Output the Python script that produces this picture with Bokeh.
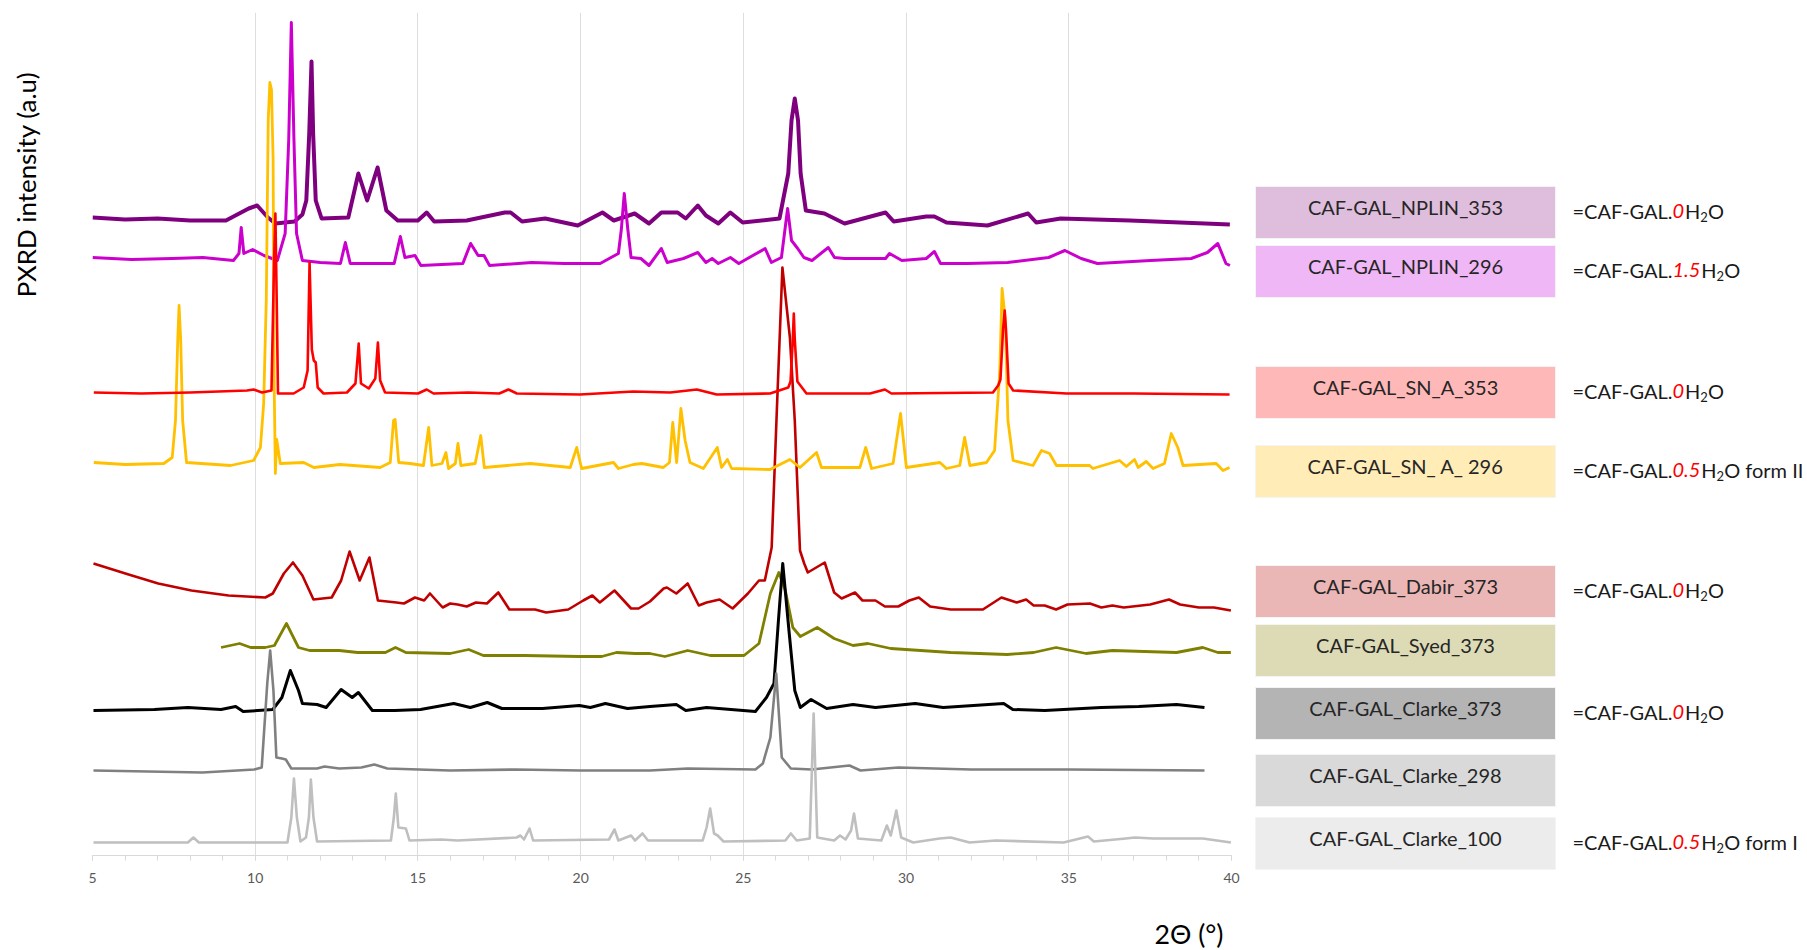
import os, glob, math
from bokeh.plotting import figure
from bokeh.models import Range1d, SingleIntervalTicker, ColumnDataSource
from bokeh.layouts import row, column
from bokeh.embed import file_html
from bokeh.resources import INLINE
from bokeh.core.properties import value

# ---------------- data: (2theta, intensity a.u. incl. stacking offset) ----------------
nplin_353 = [(5.0, 642), (6.0, 640), (7.0, 641), (8.0, 639), (9.1, 639), (9.8, 651), (10.06, 654),
             (10.39, 642), (10.62, 636), (11.21, 638), (11.45, 645), (11.57, 659), (11.66, 726), (11.73, 798),
             (11.78, 726), (11.86, 659), (12.04, 641), (12.86, 642), (13.17, 686), (13.44, 659), (13.76, 692),
             (14.03, 649), (14.38, 639), (15.0, 639), (15.27, 647), (15.5, 638), (16.5, 639), (17.67, 647),
             (17.85, 647), (18.2, 638), (18.91, 641), (19.91, 634), (20.67, 647), (21.02, 639), (21.66, 646),
             (22.10, 636), (22.48, 647), (22.98, 647), (23.23, 641), (23.60, 654), (23.85, 644), (24.23, 636),
             (24.60, 647), (24.98, 637), (26.11, 641), (26.38, 686), (26.48, 739), (26.58, 761), (26.68, 739),
             (26.76, 686), (26.92, 649), (27.49, 646), (28.11, 636), (29.37, 647), (29.62, 638), (30.62, 643),
             (30.87, 643), (31.24, 637), (32.50, 634), (33.75, 646), (34.0, 637), (34.75, 641), (36.88, 639),
             (39.95, 635)]

nplin_296 = [(5.0, 602), (6.2, 600), (7.45, 601), (8.39, 602), (9.33, 599), (9.50, 606), (9.57, 632),
             (9.65, 606), (9.92, 610), (10.27, 604), (10.68, 599), (10.92, 626), (11.03, 720), (11.11, 837),
             (11.19, 720), (11.27, 626), (11.45, 599), (12.0, 597), (12.62, 596), (12.77, 617), (12.92, 596),
             (14.27, 596), (14.46, 623), (14.60, 602), (14.91, 604), (15.09, 594), (16.38, 596), (16.62, 616),
             (16.85, 604), (17.03, 604), (17.20, 594), (18.5, 597), (19.5, 596), (20.6, 596), (21.16, 606),
             (21.25, 630), (21.34, 666), (21.45, 630), (21.55, 602), (21.85, 601), (22.1, 594), (22.48, 611),
             (22.66, 597), (23.16, 601), (23.60, 607), (23.85, 597), (24.04, 601), (24.23, 596), (24.60, 602),
             (24.86, 596), (25.67, 611), (25.86, 597), (26.17, 602), (26.36, 651), (26.48, 619), (26.67, 611),
             (26.86, 602), (27.11, 599), (27.61, 612), (27.80, 602), (28.11, 601), (29.37, 601), (29.49, 606),
             (29.87, 599), (30.62, 601), (30.87, 608), (31.06, 596), (31.87, 596), (33.12, 597), (34.38, 602),
             (34.88, 609), (35.38, 601), (35.88, 596), (37.51, 599), (38.76, 601), (39.26, 607), (39.58, 616),
             (39.83, 596), (39.95, 594)]

sn_a_353 = [(5.04, 467), (6.5, 466), (8.0, 467), (9.75, 469), (9.95, 470), (10.21, 467), (10.50, 469),
            (10.58, 600), (10.62, 646), (10.66, 560), (10.70, 466), (11.18, 466), (11.49, 472), (11.61, 489),
            (11.67, 597), (11.74, 510), (11.80, 499), (11.86, 497), (11.92, 472), (12.1, 466), (12.82, 467),
            (13.08, 476), (13.18, 516), (13.25, 476), (13.49, 471), (13.69, 481), (13.77, 517), (13.84, 479),
            (13.99, 467), (15.0, 466), (15.27, 470), (15.48, 466), (16.55, 467), (17.5, 466), (17.78, 470),
            (18.04, 466), (19.98, 465), (21.62, 468), (22.75, 467), (23.57, 470), (24.18, 465), (25.82, 466),
            (26.38, 472), (26.45, 478), (26.52, 520), (26.55, 546), (26.58, 520), (26.66, 478), (26.94, 466),
            (28.89, 466), (29.35, 470), (29.55, 466), (32.67, 467), (32.83, 474), (32.90, 480), (32.98, 530),
            (33.03, 549), (33.07, 530), (33.15, 476), (33.29, 469), (34.93, 466), (37.0, 466), (39.94, 465)]

sn_a_296 = [(5.04, 397), (6.0, 395), (7.19, 396), (7.45, 402), (7.55, 439), (7.62, 520), (7.66, 554),
            (7.71, 520), (7.77, 439), (7.89, 397), (9.24, 394), (9.95, 399), (10.16, 412), (10.26, 456),
            (10.34, 560), (10.40, 740), (10.45, 777), (10.50, 770), (10.55, 700), (10.58, 480), (10.62, 386),
            (10.66, 420), (10.77, 396), (11.49, 397), (11.80, 392), (12.6, 395), (13.84, 392), (14.15, 397),
            (14.25, 439), (14.30, 440), (14.41, 397), (14.76, 396), (15.17, 394), (15.33, 432), (15.43, 394),
            (15.74, 396), (15.86, 407), (15.94, 391), (16.15, 396), (16.23, 416), (16.32, 394), (16.76, 396),
            (16.93, 424), (17.04, 392), (18.45, 396), (19.68, 392), (19.88, 412), (20.03, 391), (21.01, 397),
            (21.16, 391), (21.62, 395), (21.88, 396), (22.54, 392), (22.73, 397), (22.83, 437), (22.95, 397),
            (23.08, 451), (23.21, 419), (23.36, 397), (23.77, 391), (24.20, 412), (24.33, 392), (24.51, 400),
            (24.64, 391), (25.82, 390), (26.43, 400), (26.74, 392), (27.25, 407), (27.40, 392), (28.58, 392),
            (28.76, 412), (28.94, 391), (29.6, 396), (29.83, 446), (30.01, 392), (31.04, 397), (31.24, 391),
            (31.65, 394), (31.80, 422), (31.96, 394), (32.47, 397), (32.72, 409), (32.88, 489), (32.95, 571),
            (33.05, 539), (33.13, 439), (33.29, 399), (33.9, 394), (34.16, 409), (34.41, 406), (34.62, 394),
            (35.64, 394), (35.74, 391), (36.56, 399), (36.77, 393), (37.02, 400), (37.13, 392), (37.38, 398),
            (37.59, 391), (37.94, 396), (38.15, 426), (38.35, 412), (38.51, 394), (39.53, 396), (39.74, 389),
            (39.94, 392)]

dabir_373 = [(5.03, 296), (6.11, 285), (7.02, 276), (8.04, 269), (9.18, 264), (10.31, 262), (10.54, 266),
             (10.88, 286), (11.16, 297), (11.45, 284), (11.79, 260), (12.35, 262), (12.64, 279), (12.90, 308),
             (13.21, 279), (13.51, 302), (13.77, 259), (14.34, 257), (14.57, 256), (14.91, 262), (15.19, 259),
             (15.37, 266), (15.76, 252), (15.99, 256), (16.22, 255), (16.50, 253), (16.78, 257), (17.12, 256),
             (17.47, 267), (17.81, 250), (18.6, 250), (18.94, 247), (19.62, 250), (20.08, 259), (20.36, 264),
             (20.59, 257), (21.04, 269), (21.55, 251), (21.78, 251), (22.13, 258), (22.55, 271), (22.65, 272),
             (22.94, 266), (23.29, 276), (23.63, 254), (23.87, 257), (24.27, 260), (24.67, 251), (25.14, 266),
             (25.48, 279), (25.66, 279), (25.87, 312), (26.03, 450), (26.20, 592), (26.43, 522), (26.58, 439),
             (26.74, 309), (26.87, 296), (26.98, 287), (27.50, 297), (27.79, 267), (28.02, 261), (28.43, 267),
             (28.66, 259), (29.06, 259), (29.35, 253), (29.76, 253), (30.10, 259), (30.39, 262), (30.74, 253),
             (31.37, 250), (32.36, 250), (32.93, 262), (33.40, 257), (33.69, 260), (33.92, 254), (34.26, 254),
             (34.61, 250), (34.96, 255), (35.65, 256), (36.0, 252), (36.34, 254), (36.69, 252), (37.5, 255),
             (38.08, 260), (38.42, 255), (39.0, 252), (39.46, 252), (39.98, 249)]

syed_373 = [(8.95, 212), (9.52, 216), (9.86, 212), (10.31, 212), (10.59, 214), (10.96, 236), (11.33, 212),
            (11.67, 209), (12.58, 209), (13.15, 207), (14.0, 207), (14.31, 212), (14.63, 207), (15.99, 206),
            (16.56, 210), (17.01, 204), (18.26, 204), (19.96, 203), (20.65, 203), (21.10, 207), (21.67, 206),
            (22.13, 206), (22.59, 203), (23.29, 209), (23.98, 204), (25.02, 204), (25.48, 216), (25.83, 266),
            (26.09, 287), (26.29, 269), (26.52, 232), (26.75, 223), (27.27, 232), (27.79, 221), (28.37, 214),
            (28.83, 216), (29.53, 211), (31.37, 207), (33.11, 205), (33.92, 207), (34.61, 212), (35.53, 206),
            (36.34, 209), (38.31, 207), (39.12, 212), (39.58, 207), (39.98, 207)]

clarke_373 = [(5.03, 149), (6.9, 150), (7.93, 152), (8.95, 150), (9.40, 153), (9.63, 148), (10.54, 150),
              (10.82, 162), (11.08, 189), (11.33, 169), (11.45, 156), (11.9, 155), (12.18, 152), (12.64, 170),
              (12.98, 162), (13.17, 167), (13.6, 149), (14.29, 149), (15.08, 150), (16.1, 156), (16.61, 152),
              (17.13, 157), (17.58, 151), (18.83, 151), (19.96, 154), (20.3, 152), (20.76, 156), (21.44, 151),
              (22.13, 153), (22.94, 155), (23.23, 149), (23.87, 152), (25.37, 148), (25.71, 162), (25.94, 176),
              (26.08, 240), (26.21, 296), (26.41, 226), (26.58, 169), (26.75, 152), (27.08, 160), (27.56, 151),
              (28.37, 155), (29.06, 152), (30.28, 156), (31.14, 152), (33.0, 156), (33.28, 150), (34.26, 149),
              (36.0, 152), (37.15, 153), (38.31, 155), (39.17, 152)]

clarke_298 = [(5.03, 89), (8.38, 87), (9.97, 90), (10.20, 92), (10.37, 176), (10.46, 209), (10.56, 169),
              (10.65, 102), (10.82, 101), (10.94, 100), (11.11, 91), (11.9, 91), (12.13, 93), (12.58, 91),
              (13.26, 92), (13.66, 95), (14.06, 91), (15.99, 89), (18.0, 90), (20.0, 89), (22.13, 89),
              (23.29, 91), (25.37, 90), (25.6, 96), (25.83, 122), (26.01, 186), (26.18, 102), (26.46, 91),
              (27.1, 90), (28.26, 94), (28.6, 89), (29.76, 92), (32.0, 90), (35.0, 90), (39.17, 89)]

clarke_100 = [(5.03, 17), (7.93, 17), (8.1, 22), (8.27, 17), (10.99, 17), (11.11, 42), (11.19, 81),
              (11.28, 42), (11.39, 18), (11.56, 22), (11.65, 42), (11.71, 80), (11.79, 42), (11.9, 18),
              (14.17, 19), (14.26, 42), (14.32, 66), (14.40, 32), (14.63, 31), (14.74, 19), (15.71, 20),
              (16.22, 19), (18.03, 22), (18.15, 24), (18.26, 20), (18.43, 31), (18.54, 19), (20.87, 20),
              (21.04, 30), (21.16, 19), (21.55, 24), (21.67, 19), (21.9, 26), (22.07, 19), (23.75, 19),
              (23.87, 32), (23.98, 51), (24.1, 26), (24.21, 24), (24.39, 18), (26.29, 19), (26.46, 26),
              (26.64, 19), (27.04, 21), (27.16, 146), (27.27, 22), (27.79, 19), (27.97, 24), (28.14, 20),
              (28.31, 29), (28.40, 46), (28.52, 21), (29.24, 19), (29.41, 34), (29.53, 24), (29.70, 49),
              (29.85, 22), (30.22, 17), (31.03, 21), (31.37, 22), (31.95, 17), (32.76, 19), (34.84, 17),
              (35.59, 23), (35.77, 18), (36.75, 21), (37.03, 22), (37.6, 21), (39.12, 21), (39.98, 17)]

series_names = ["CAF-GAL_NPLIN_353", "CAF-GAL_NPLIN_296", "CAF-GAL_SN_A_353", "CAF-GAL_SN_ A_ 296",
                "CAF-GAL_Dabir_373", "CAF-GAL_Syed_373", "CAF-GAL_Clarke_373", "CAF-GAL_Clarke_298",
                "CAF-GAL_Clarke_100"]
series_data = [nplin_353, nplin_296, sn_a_353, sn_a_296, dabir_373, syed_373, clarke_373, clarke_298, clarke_100]
series_colors = ["#7F007F", "#CC00CC", "#FF0000", "#FFC000", "#C00000", "#808000", "#000000", "#808080", "#BFBFBF"]
series_widths = [4.0, 3.0, 2.6, 2.8, 2.6, 2.8, 3.0, 2.6, 2.6]
box_colors = ["#DFBEDD", "#EFB7F5", "#FFB8B8", "#FFECB6", "#EBB6B6", "#DCDBB6", "#B4B4B4", "#D9D9D9", "#ECECEC"]
hydrate_num = ["0", "1.5", "0", "0.5", "0", None, "0", None, "0.5"]
hydrate_tail = ["", "", "", " form II", "", None, "", None, " form I"]
x_ticks_step = 5
x_title = "2\u0398 (\u00b0)"
y_title = "PXRD intensity (a.u)"

FONT = "Lato"


def _find(names):
    roots = ["/usr/share/fonts", "/usr/local/share/fonts",
             os.path.expanduser("~/.local/share/fonts"), os.path.expanduser("~/.fonts")]
    for r in roots:
        for n in names:
            hits = glob.glob(os.path.join(r, "**", n), recursive=True)
            if hits:
                return hits[0]
    return None


def _measure(path, size):
    try:
        from PIL import ImageFont
        f = ImageFont.truetype(path, size)
        return lambda s: f.getlength(s)
    except Exception:
        return lambda s: len(s) * size * 0.52


def _fit(path, text, width, default):
    try:
        return round(20 * width / _measure(path, 20)(text), 1)
    except Exception:
        return default


REG = _find(["Lato-Regular.ttf", "Lato-Medium.ttf"])
ITA = _find(["Lato-Italic.ttf", "Lato-Regular.ttf"])


def _bare(fig):
    fig.outline_line_color = None
    fig.grid.visible = False
    try:
        fig.frame_align = False
    except Exception:
        pass
    return fig


# ---------------- layout constants (pixels) ----------------
YW, W1, W2 = 60, 1180, 567
HR, HB = 895, 55
box_tops = [186, 245, 366, 445, 565, 624, 687, 754, 817]   # px from top, right panel
BOX_H = 52
BOX_L, BOX_R = 15, 315
NOTE_X = 332

# ---------------- main chart ----------------
p = figure(width=W1, height=HR, x_range=Range1d(5, 40), y_range=Range1d(4, 847),
           output_backend="svg", toolbar_location=None,
           min_border_left=32, min_border_right=9, min_border_top=12, min_border_bottom=40)
p.outline_line_color = None

ticker = SingleIntervalTicker(interval=x_ticks_step, num_minor_ticks=5)
p.xaxis.ticker = ticker
p.xaxis.axis_line_color = "#d9d9d9"
p.xaxis.major_tick_line_color = "#d9d9d9"
p.xaxis.minor_tick_line_color = "#d9d9d9"
p.xaxis.major_tick_in = 0
p.xaxis.major_tick_out = 5
p.xaxis.minor_tick_in = 0
p.xaxis.minor_tick_out = 5
p.xaxis.major_label_text_font = FONT
p.xaxis.major_label_text_font_size = "14px"
p.xaxis.major_label_text_color = "#595959"
p.xaxis.major_label_standoff = 12
p.xgrid.ticker = ticker
p.xgrid.grid_line_color = "#dedede"
p.ygrid.visible = False
p.yaxis.visible = False

draw_order = [4, 5, 6, 7, 8, 0, 1, 3, 2]
for i in draw_order:
    xs = [a for a, b in series_data[i]]
    ys = [b for a, b in series_data[i]]
    p.line(xs, ys, line_color=series_colors[i], line_width=series_widths[i], line_join="round")

# ---------------- y title strip ----------------
s = _bare(figure(width=YW, height=HR, x_range=Range1d(0, YW), y_range=Range1d(0, HR),
                 output_backend="svg", toolbar_location=None, x_axis_type=None, y_axis_type=None,
                 min_border_left=0, min_border_right=0, min_border_top=0, min_border_bottom=0))
s.text(x=[25], y=[HR - 184], text=[y_title], angle=math.pi / 2, text_align="center",
       text_baseline="middle", text_font=value(FONT),
       text_font_size=f"{_fit(REG, y_title, 225, 21)}px", text_color="#000000")

# ---------------- right panel: sample boxes & hydrate notes ----------------
q = _bare(figure(width=W2, height=HR, x_range=Range1d(0, W2), y_range=Range1d(HR, 0),
                 output_backend="svg", toolbar_location=None, x_axis_type=None, y_axis_type=None,
                 min_border_left=0, min_border_right=0, min_border_top=0, min_border_bottom=0))

q.quad(left=[BOX_L] * 9, right=[BOX_R] * 9, top=box_tops, bottom=[t + BOX_H for t in box_tops],
       fill_color=box_colors, line_color="#f4f4f4", line_width=1)
q.text(x=[(BOX_L + BOX_R) / 2] * 9, y=[t + BOX_H / 2 - 6 for t in box_tops], text=series_names,
       text_align="center", text_baseline="middle", text_font=value(FONT),
       text_font_size="20px", text_color="#262626")

SZ, SUB = 20, 13
m_reg = _measure(REG, SZ)
m_ita = _measure(ITA, SZ)
m_sub = _measure(REG, SUB)

groups = {"reg": dict(x=[], y=[], t=[], c=[]), "ita": dict(x=[], y=[], t=[], c=[]),
          "sub": dict(x=[], y=[], t=[], c=[])}
for i in range(9):
    if hydrate_num[i] is None:
        continue
    mid = box_tops[i] + BOX_H / 2 - 2
    x = NOTE_X
    pieces = [("reg", "=CAF-GAL.", "#1a1a1a", m_reg, 0),
              ("ita", hydrate_num[i], "#FF0000", m_ita, 0),
              ("reg", "H", "#1a1a1a", m_reg, 0),
              ("sub", "2", "#1a1a1a", m_sub, 6),
              ("reg", "O" + hydrate_tail[i], "#1a1a1a", m_reg, 0)]
    for g, txt, col, meas, dy in pieces:
        groups[g]["x"].append(x)
        groups[g]["y"].append(mid + dy)
        groups[g]["t"].append(txt)
        groups[g]["c"].append(col)
        x += meas(txt) + (1 if g == "ita" else 0)

for g, style, size in [("reg", "normal", SZ), ("ita", "italic", SZ), ("sub", "normal", SUB)]:
    d = groups[g]
    src = ColumnDataSource(dict(x=d["x"], y=d["y"], text=d["t"], color=d["c"]))
    q.text(x="x", y="y", text="text", source=src, text_color="color",
           text_align="left", text_baseline="middle", text_font=value(FONT),
           text_font_size=f"{size}px", text_font_style=style)

# ---------------- x title strip ----------------
b = _bare(figure(width=YW + W1 + W2, height=HB, x_range=Range1d(0, YW + W1 + W2), y_range=Range1d(0, HB),
                 output_backend="svg", toolbar_location=None, x_axis_type=None, y_axis_type=None,
                 min_border_left=0, min_border_right=0, min_border_top=0, min_border_bottom=0))
b.text(x=[1223], y=[HB - (933 - HR)], text=[x_title], text_align="right", text_baseline="middle",
       text_font=value(FONT), text_font_size=f"{_fit(REG, x_title, 69, 26)}px", text_color="#000000")

layout = column(row(s, p, q), b)
open("out.html", "w").write(file_html(layout, INLINE))
